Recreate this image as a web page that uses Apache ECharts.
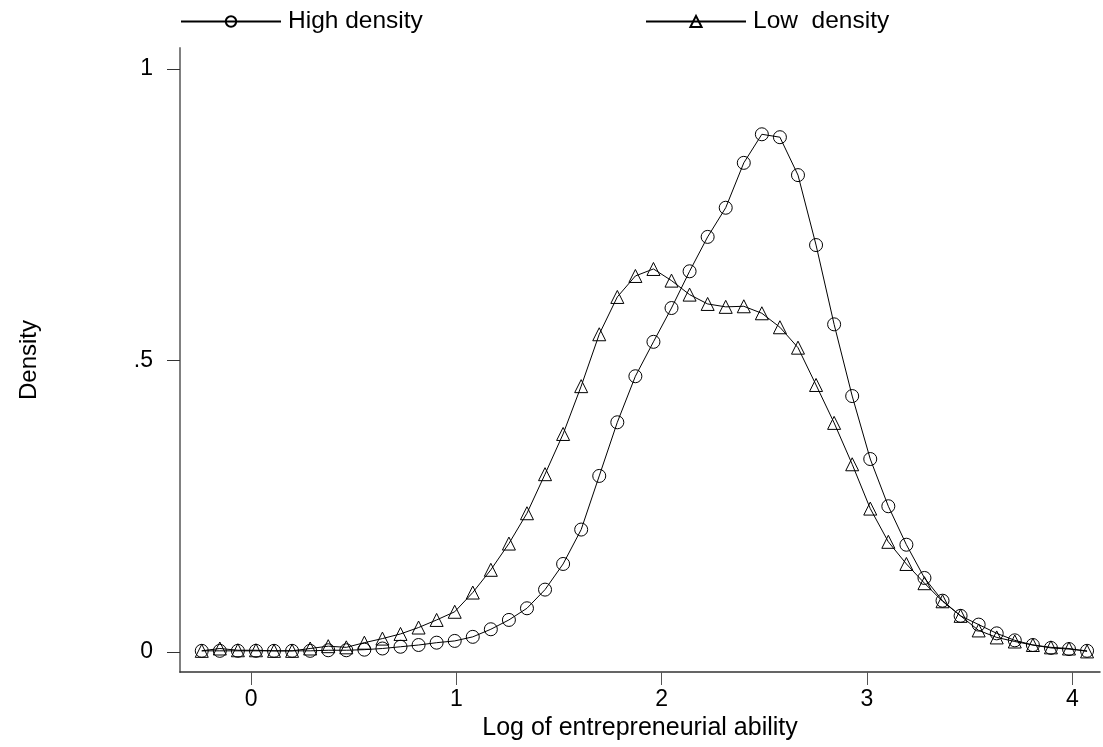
<!DOCTYPE html>
<html>
<head>
<meta charset="utf-8">
<script src="https://cdn.jsdelivr.net/npm/echarts@6/dist/echarts.min.js"></script>
<style>
html,body{margin:0;padding:0;background:#fff;}
#chart{width:1103px;height:747px;}
</style>
</head>
<body>
<div id="chart"></div>
<script>
const xValues = [-0.240, -0.152, -0.064, 0.024, 0.112, 0.200, 0.288, 0.376, 0.464, 0.552,
  0.640, 0.728, 0.816, 0.904, 0.992, 1.080, 1.168, 1.256, 1.344, 1.432,
  1.520, 1.608, 1.696, 1.784, 1.872, 1.960, 2.048, 2.136, 2.224, 2.312,
  2.400, 2.488, 2.576, 2.664, 2.752, 2.840, 2.928, 3.016, 3.104, 3.192,
  3.280, 3.368, 3.456, 3.544, 3.632, 3.720, 3.808, 3.896, 3.984, 4.072];
const highDensity = [0.002, 0.002, 0.002, 0.002, 0.002, 0.002, 0.002, 0.003, 0.003, 0.004,
  0.006, 0.009, 0.012, 0.016, 0.019, 0.026, 0.039, 0.055, 0.075, 0.107,
  0.151, 0.210, 0.302, 0.394, 0.473, 0.532, 0.590, 0.653, 0.712, 0.762,
  0.839, 0.888, 0.883, 0.818, 0.698, 0.562, 0.439, 0.331, 0.250, 0.184,
  0.127, 0.088, 0.062, 0.047, 0.032, 0.020, 0.012, 0.007, 0.005, 0.002];
const lowDensity = [0.002, 0.006, 0.003, 0.003, 0.002, 0.002, 0.006, 0.010, 0.008, 0.016,
  0.023, 0.031, 0.042, 0.055, 0.069, 0.102, 0.141, 0.186, 0.238, 0.305,
  0.374, 0.456, 0.545, 0.609, 0.645, 0.657, 0.637, 0.613, 0.597, 0.592,
  0.593, 0.581, 0.557, 0.522, 0.458, 0.393, 0.322, 0.246, 0.189, 0.151,
  0.118, 0.087, 0.062, 0.037, 0.025, 0.018, 0.012, 0.008, 0.006, 0.001];
const xTicks = [0, 1, 2, 3, 4];
const yTicks = [0, 0.5, 1];
const yTickLabels = ['0', '.5', '1'];
const seriesNames = ['High density', 'Low  density'];

const FONT = '"Liberation Sans", Arial, sans-serif';
const chart = echarts.init(document.getElementById('chart'), null, {renderer: 'canvas'});

function pairs(ys) { return xValues.map((x, i) => [x, ys[i]]); }

const markerStyle = {color: 'rgba(0,0,0,0)', borderColor: '#000', borderWidth: 1};

chart.setOption({
  animation: false,
  backgroundColor: '#fff',
  grid: {left: 180, right: 3, top: 48, bottom: 75, containLabel: false},
  legend: [
    {data: [seriesNames[0]], left: 180, top: 9, padding: 0, itemWidth: 100, itemHeight: 13, itemGap: 0,
     textStyle: {fontSize: 24.5, color: '#000', fontFamily: FONT, padding: [0, 0, 0, 2]}},
    {data: [seriesNames[1]], left: 645, top: 9, padding: 0, itemWidth: 100, itemHeight: 14, itemGap: 0,
     textStyle: {fontSize: 24.5, color: '#000', fontFamily: FONT, padding: [0, 0, 0, 2]}}
  ],
  xAxis: {
    type: 'value', min: -0.346, max: 4.135,
    name: 'Log of entrepreneurial ability', nameLocation: 'middle', nameGap: 39,
    nameTextStyle: {fontSize: 25, color: '#000', fontFamily: FONT},
    axisLine: {show: true, onZero: false, lineStyle: {color: '#333', width: 1.5}},
    axisTick: {show: true, length: 13, customValues: xTicks, lineStyle: {color: '#555', width: 1}},
    axisLabel: {customValues: xTicks, margin: 16, fontSize: 23, color: '#000', fontFamily: FONT,
      formatter: v => String(v)},
    splitLine: {show: false}
  },
  yAxis: {
    type: 'value', min: -0.0343, max: 1.036,
    name: 'Density', nameLocation: 'middle', nameGap: 139, nameRotate: 90,
    nameTextStyle: {fontSize: 24, color: '#000', fontFamily: FONT},
    axisLine: {show: true, onZero: false, lineStyle: {color: '#808080', width: 2}},
    axisTick: {show: true, length: 13, customValues: yTicks, lineStyle: {color: '#333', width: 1}},
    axisLabel: {customValues: yTicks, margin: 27, fontSize: 23, color: '#000', fontFamily: FONT,
      formatter: v => yTickLabels[yTicks.indexOf(v)] !== undefined ? yTickLabels[yTicks.indexOf(v)] : ''},
    splitLine: {show: false}
  },
  series: [
    {name: seriesNames[0], type: 'line', data: pairs(highDensity), symbol: 'circle', symbolSize: 13,
     showAllSymbol: true, lineStyle: {color: '#000', width: 1}, itemStyle: markerStyle, z: 3},
    {name: seriesNames[1], type: 'line', data: pairs(lowDensity), symbol: 'triangle', symbolSize: 13,
     showAllSymbol: true, lineStyle: {color: '#000', width: 1}, itemStyle: markerStyle, z: 2}
  ]
});
</script>
</body>
</html>
